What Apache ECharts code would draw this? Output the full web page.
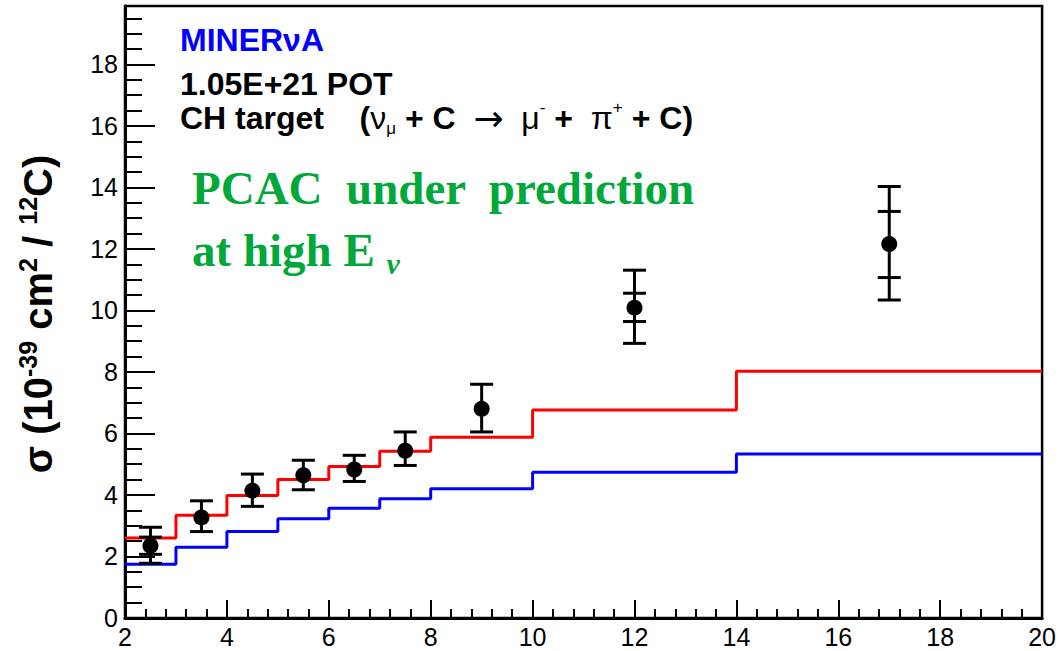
<!DOCTYPE html>
<html>
<head>
<meta charset="utf-8">
<script src="https://cdn.jsdelivr.net/npm/echarts@6/dist/echarts.min.js"></script>
<style>
  html, body { margin: 0; padding: 0; background: #fff; }
  #chart { width: 1059px; height: 651px; }
</style>
</head>
<body>
<div id="chart"></div>
<script>
// ---- data ----
const binEdges = [2, 3, 4, 5, 6, 7, 8, 10, 14, 20];
const redModel = [2.6, 3.34, 3.98, 4.5, 4.93, 5.42, 5.88, 6.76, 8.02];
const blueModel = [1.75, 2.3, 2.81, 3.23, 3.57, 3.88, 4.2, 4.74, 5.33];

const energy = [2.5, 3.5, 4.5, 5.5, 6.5, 7.5, 9, 12, 17];
const xsec = [2.35, 3.27, 4.14, 4.64, 4.83, 5.44, 6.80, 10.09, 12.16];
const totLow = [1.78, 2.81, 3.63, 4.17, 4.44, 4.96, 6.05, 8.93, 10.34];
const totHigh = [2.95, 3.81, 4.68, 5.13, 5.29, 6.05, 7.60, 11.31, 14.03];
const statLow = [2.07, null, null, null, null, null, null, 9.64, 11.07];
const statHigh = [2.63, null, null, null, null, null, null, 10.56, 13.22];

const xTicks = { min: 2, max: 20, interval: 2 };
const yTicks = { min: 0, max: 19.9, interval: 2 };

// ---- build ----
function stepData(vals) {
  const d = binEdges.slice(0, -1).map((e, i) => [e, vals[i]]);
  d.push([binEdges[binEdges.length - 1], vals[vals.length - 1]]);
  return d;
}

const chart = echarts.init(document.getElementById('chart'), null, { renderer: 'svg' });
const FONT = 'Liberation Sans, Arial, Helvetica, sans-serif';
const SERIF = 'Liberation Serif, Times New Roman, serif';
const GREEN = '#00a83a';

const option = {
  animation: false,
  backgroundColor: '#fff',
  grid: {
    left: 125, right: 15, top: 6, bottom: 33,
    show: true, borderColor: '#000', borderWidth: 2.5, backgroundColor: 'transparent'
  },
  xAxis: {
    type: 'value', min: xTicks.min, max: xTicks.max, interval: xTicks.interval,
    axisLine: { show: true, onZero: false, lineStyle: { color: '#000', width: 3 } },
    axisTick: { show: true, inside: true, length: 18, lineStyle: { color: '#000', width: 2 } },
    minorTick: { show: true, splitNumber: 5, length: 9, lineStyle: { color: '#000', width: 2 } },
    axisLabel: { color: '#000', fontSize: 25, fontFamily: FONT, margin: 6 },
    splitLine: { show: false }
  },
  yAxis: {
    type: 'value', min: yTicks.min, max: yTicks.max, interval: yTicks.interval,
    axisLine: { show: true, onZero: false, lineStyle: { color: '#000', width: 3 } },
    axisTick: { show: true, inside: true, length: 30, lineStyle: { color: '#000', width: 2 } },
    minorTick: { show: true, splitNumber: 4, length: 17, lineStyle: { color: '#000', width: 2 } },
    axisLabel: { color: '#000', fontSize: 25, fontFamily: FONT, margin: 7, showMaxLabel: false },
    splitLine: { show: false }
  },
  graphic: [
    {
      type: 'text', x: 38, y: 314, rotation: Math.PI / 2, z: 10,
      style: {
        text: '{b|σ (10}{sup|-39}{b| cm}{sup|2}{b| / }{sup|12}{b|C)}',
        align: 'center', verticalAlign: 'middle', fill: '#000',
        rich: {
          b: { fontSize: 40, fontWeight: 'bold', fontFamily: FONT, lineHeight: 46, fill: '#000' },
          sup: { fontSize: 25, fontWeight: 'bold', fontFamily: FONT, verticalAlign: 'top', fill: '#000' }
        }
      }
    },
    {
      type: 'text', x: 180, y: 40, z: 10,
      style: { text: 'MINERνA', font: 'bold 32px ' + FONT, fill: '#0000ff', align: 'left', verticalAlign: 'middle' }
    },
    {
      type: 'text', x: 180, y: 84, z: 10,
      style: { text: '1.05E+21 POT', font: 'bold 32px ' + FONT, fill: '#000', align: 'left', verticalAlign: 'middle' }
    },
    {
      type: 'text', x: 180, y: 118, z: 10,
      style: {
        text: '{b|CH target    (}{g|ν}{sub|μ}{b| + C  }{a|→}{b|  }{g|μ}{sup|-}{b| +  }{g|π}{sup|+}{b| + C)}',
        align: 'left', verticalAlign: 'middle', fill: '#000',
        rich: {
          b: { fontSize: 32, fontWeight: 'bold', fontFamily: FONT, lineHeight: 38, fill: '#000' },
          g: { fontSize: 32, fontFamily: FONT, lineHeight: 38, fill: '#000' },
          a: { fontSize: 36, fontFamily: 'DejaVu Sans, sans-serif', lineHeight: 38, fill: '#000' },
          sub: { fontSize: 17, fontFamily: FONT, verticalAlign: 'bottom', fill: '#000' },
          sup: { fontSize: 17, fontFamily: FONT, verticalAlign: 'top', fill: '#000' }
        }
      }
    },
    {
      type: 'text', x: 192, y: 188, z: 10,
      style: { text: 'PCAC  under  prediction', font: 'bold 47px ' + SERIF, fill: GREEN, align: 'left', verticalAlign: 'middle' }
    },
    {
      type: 'text', x: 192, y: 250, z: 10,
      style: {
        text: '{g|at high E }{s|ν}',
        align: 'left', verticalAlign: 'middle',
        rich: {
          g: { fontSize: 47, fontWeight: 'bold', fontFamily: SERIF, fill: GREEN, lineHeight: 56 },
          s: { fontSize: 30, fontWeight: 'bold', fontStyle: 'italic', fontFamily: SERIF, fill: GREEN, verticalAlign: 'bottom' }
        }
      }
    }
  ],
  series: [
    {
      type: 'line', step: 'end', data: stepData(redModel), showSymbol: false, symbol: 'none',
      lineStyle: { color: '#ff0000', width: 3 }, z: 2
    },
    {
      type: 'line', step: 'end', data: stepData(blueModel), showSymbol: false, symbol: 'none',
      lineStyle: { color: '#0000ff', width: 3 }, z: 2
    },
    {
      type: 'custom', z: 3,
      data: energy.map((e, i) => [e, xsec[i]]),
      renderItem: function (params, api) {
        const i = params.dataIndex;
        const x = api.value(0);
        const pLo = api.coord([x, totLow[i]]);
        const pHi = api.coord([x, totHigh[i]]);
        const hw = 11.5;
        const st = { stroke: '#000', lineWidth: 3 };
        const ch = [
          { type: 'line', shape: { x1: pLo[0], y1: pLo[1], x2: pHi[0], y2: pHi[1] }, style: st },
          { type: 'line', shape: { x1: pLo[0] - hw, y1: pLo[1], x2: pLo[0] + hw, y2: pLo[1] }, style: st },
          { type: 'line', shape: { x1: pHi[0] - hw, y1: pHi[1], x2: pHi[0] + hw, y2: pHi[1] }, style: st }
        ];
        if (statLow[i] != null) {
          const sLo = api.coord([x, statLow[i]]);
          const sHi = api.coord([x, statHigh[i]]);
          ch.push({ type: 'line', shape: { x1: sLo[0] - hw, y1: sLo[1], x2: sLo[0] + hw, y2: sLo[1] }, style: st });
          ch.push({ type: 'line', shape: { x1: sHi[0] - hw, y1: sHi[1], x2: sHi[0] + hw, y2: sHi[1] }, style: st });
        }
        return { type: 'group', children: ch };
      }
    },
    {
      type: 'scatter', z: 4,
      data: energy.map((e, i) => [e, xsec[i]]),
      symbol: 'circle', symbolSize: 16,
      itemStyle: { color: '#000', opacity: 1 }
    }
  ]
};
chart.setOption(option);
</script>
</body>
</html>
